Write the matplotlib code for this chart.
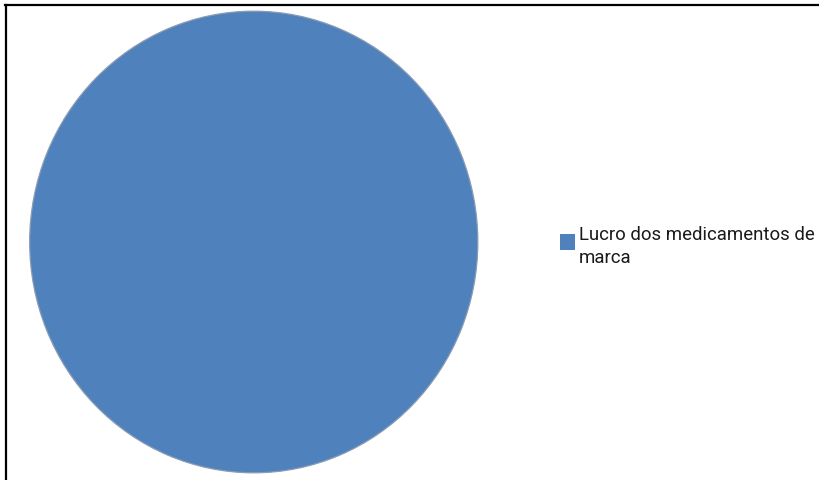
import matplotlib
matplotlib.use("Agg")
import matplotlib.pyplot as plt
from matplotlib.lines import Line2D
from matplotlib.patches import Rectangle

legend_lines = ["Lucro dos medicamentos de", "marca"]
values = [100.0]
colors = ["#4F81BD"]

W, H = 819, 481
fig = plt.figure(figsize=(W / 100, H / 100), dpi=100)
fig.patch.set_facecolor("white")

# pie on the left; the plot area is slightly taller than wide
left, right, top, bottom = 29, 478.5, 11.5, 474.5
ax = fig.add_axes([left / W, 1 - bottom / H, (right - left) / W, (bottom - top) / H])
ax.pie(values, colors=colors, startangle=90, counterclock=False,
       wedgeprops=dict(edgecolor="#8a9cb3", linewidth=0.9))
ax.set_aspect("auto")
ax.set_xlim(-1.003, 1.003)
ax.set_ylim(-1.003, 1.003)
ax.axis("off")

# legend entry on the right
def px(x, y):
    return x / W, 1 - y / H

sx, sy = px(560, 251)
fig.add_artist(Rectangle((sx, sy), 15 / W, 16 / H, facecolor=colors[0],
                         edgecolor="none", transform=fig.transFigure))
for i, line in enumerate(legend_lines):
    tx, ty = px(579, 240 + 23 * i)
    fig.text(tx, ty, line, ha="left", va="baseline", fontsize=13.4,
             family="Roboto", color="#1a1a1a")

# chart frame: top and left edges
fig.add_artist(Line2D([5 / W, 1], [1 - 5.5 / H, 1 - 5.5 / H], color="black",
                      linewidth=1.6, transform=fig.transFigure))
fig.add_artist(Line2D([5.5 / W, 5.5 / W], [0, 1 - 5.5 / H], color="black",
                      linewidth=1.6, transform=fig.transFigure))

fig.savefig("out.png", dpi=100, facecolor="white")
